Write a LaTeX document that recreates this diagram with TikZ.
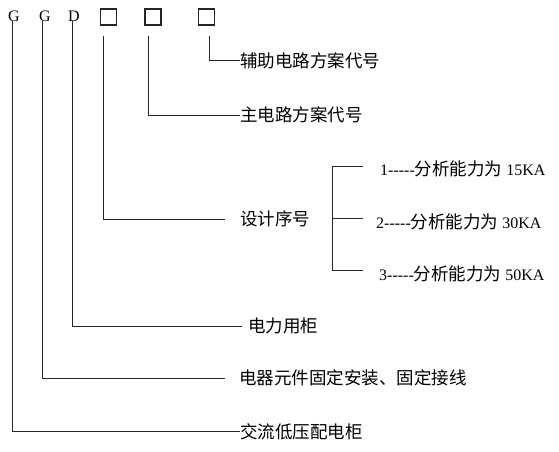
\documentclass[tikz,border=0pt]{standalone}
\usepackage{fontspec}
\setmainfont{Liberation Serif}
\newfontfamily\cjk{Noto Sans CJK SC}
\tikzset{
  conn/.style={line width=1pt, draw=black!85},
  letter/.style={inner sep=0pt, font=\fontsize{16}{16}\selectfont},
  slot/.style={draw=black!85, line width=1.2pt, inner sep=0pt, minimum width=16pt, minimum height=16pt},
  lbl/.style={inner sep=0pt, anchor=west, font=\fontsize{17.5}{18}\selectfont\cjk},
  rowlbl/.style={inner sep=0pt, anchor=west, font=\fontsize{16}{18}\selectfont},
}
\newcommand{\cjkpart}[1]{{\fontsize{17.5}{18}\selectfont\cjk #1}}
\newcommand{\rowtext}[2]{#1-{}-{}-{}-{}-\cjkpart{分析能力为}\hspace{4pt}#2KA}
\begin{document}
\begin{tikzpicture}[x=1pt, y=-1pt]
\useasboundingbox[fill=white] (0,0) rectangle (559,452);
% top code letters and slots
\node[letter] (g1) at (13.8,15.8) {G};
\node[letter] (g2) at (45,15.8) {G};
\node[letter] (d) at (74,15.8) {D};
\node[slot] (b1) at (108.7,17) {};
\node[slot] (b2) at (153,17) {};
\node[slot] (b3) at (206.2,17) {};
% labels
\node[lbl] (t1) at (240,60.7) {辅助电路方案代号};
\node[lbl] (t2) at (240,115) {主电路方案代号};
\node[lbl] (sj) at (240,219.3) {设计序号};
\node[lbl] (t4) at (248,326) {电力用柜};
\node[lbl] (t5) at (239,378.3) {电器元件固定安装、固定接线};
\node[lbl] (t6) at (240,431.7) {交流低压配电柜};
% rows
\node[rowlbl] (r1) at (380,169) {\rowtext{1}{15}};
\node[rowlbl] (r2) at (376,222) {\rowtext{2}{30}};
\node[rowlbl] (r3) at (379,274) {\rowtext{3}{50}};
% bracket coordinates
\coordinate (bx) at (332,219);
\coordinate (k1) at (363,166.7);
\coordinate (k2) at (363,218.8);
\coordinate (k3) at (363,270.5);
% connectors
\draw[conn, shorten <=10pt] ([xshift=12.3pt]b3.south west) |- (t1.west);
\draw[conn, shorten <=10pt] ([xshift=4pt]b2.south west) |- (t2.west);
\draw[conn, shorten <=10pt, shorten >=15pt] ([xshift=3pt]b1.south west) |- (sj.west);
\draw[conn, shorten >=6.5pt] ([xshift=-1.3pt]d.south) |- (t4.west);
\draw[conn, shorten >=14pt] ([xshift=-2.7pt]g2.south) |- (t5.west);
\draw[conn] ([xshift=-1.5pt]g1.south) |- (t6.west);
\draw[conn] (k1) -- (k1 -| bx) -- (k3 -| bx) -- (k3);
\draw[conn] (k2 -| bx) -- (k2);
\end{tikzpicture}
\end{document}
